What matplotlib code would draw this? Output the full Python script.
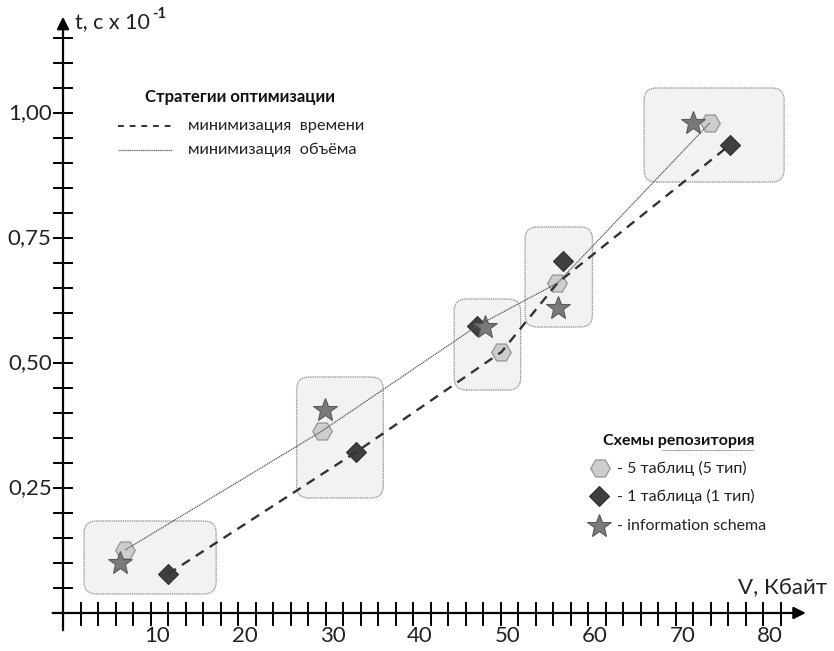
import matplotlib
matplotlib.use("Agg")
import matplotlib.pyplot as plt
from matplotlib.patches import FancyBboxPatch

plt.rcParams['font.family'] = ['Lato', 'DejaVu Sans']

# точки по схемам репозитория (V, Кбайт ; t, c x 10^-1)
hex_x = [7.1, 29.6, 50.1, 56.5, 73.9]          # 5 таблиц (5 тип)
hex_y = [0.126, 0.364, 0.522, 0.660, 0.980]
dia_x = [12.0, 33.5, 47.3, 57.1, 76.2]         # 1 таблица (1 тип)
dia_y = [0.078, 0.322, 0.574, 0.704, 0.936]
star_x = [6.5, 29.9, 48.2, 56.6, 72.0]         # information schema
star_y = [0.100, 0.406, 0.572, 0.610, 0.980]

# стратегии: минимизация времени / объёма
time_x = [12.0, 33.5, 50.1, 56.5, 76.2]
time_y = [0.078, 0.322, 0.522, 0.660, 0.936]
vol_x = [7.1, 29.6, 47.3, 56.5, 73.9]
vol_y = [0.126, 0.364, 0.574, 0.660, 0.980]

# рамки групп (x0, x1, y0, y1)
groups = [(2.4, 17.5, 0.038, 0.184),
          (26.7, 36.6, 0.230, 0.472),
          (44.7, 52.3, 0.446, 0.628),
          (52.8, 60.5, 0.572, 0.772),
          (66.4, 82.4, 0.862, 1.050)]

x_labels = [10, 20, 30, 40, 50, 60, 70, 80]
y_labels = [0.25, 0.50, 0.75, 1.00]

fig = plt.figure(figsize=(8.34, 6.51), dpi=100)
ax = fig.add_axes([0, 0, 1, 1])
ax.set_xlim(-7.2, 88.1)
ax.set_ylim(-0.076, 1.226)
ax.axis('off')

# axes with arrows
ax.annotate('', xy=(85.2, 0), xytext=(-1.5, 0),
            arrowprops=dict(arrowstyle='-|>', color='k', lw=1.6, mutation_scale=18))
ax.annotate('', xy=(0, 1.198), xytext=(0, -0.04),
            arrowprops=dict(arrowstyle='-|>', color='k', lw=1.6, mutation_scale=18))

for xt in range(2, 84, 2):
    ax.plot([xt, xt], [-0.024, 0.02], color='k', lw=1.4)
for i in range(1, 24):
    yt = 0.05 * i
    ax.plot([-1.03, 1.03], [yt, yt], color='k', lw=1.4)

for v in x_labels:
    ax.text(v + 0.8, -0.046, str(v), ha='center', va='center', fontsize=16, color='#222')
for v in y_labels:
    ax.text(-1.3, v, ('%.2f' % v).replace('.', ','), ha='right', va='center',
            fontsize=16, color='#222')

ax.text(1.4, 1.182, 't, с x 10', ha='left', va='center', fontsize=15.5, color='#222')
ax.text(10.15, 1.198, '-1', ha='left', va='center', fontsize=10.5, fontweight='bold', color='#222')
ax.text(87.3, 0.05, 'V, Кбайт', ha='right', va='center', fontsize=16, color='#222')

# group boxes
for x0, x1, y0, y1 in groups:
    ax.add_patch(FancyBboxPatch((x0, y0), x1 - x0, y1 - y0,
                                boxstyle='round,pad=0,rounding_size=1.4',
                                mutation_aspect=0.0175,
                                facecolor='#f2f2f2', edgecolor='#9a9a9a',
                                lw=1.0, linestyle=(0, (1, 0.6)), zorder=1))

# markers
ax.plot(hex_x, hex_y, 'H', ms=14, mfc='#cdcdcd', mec='#9a9a9a', mew=1, ls='none', zorder=3)
ax.plot(dia_x, dia_y, 'D', ms=10.5, mfc='#404040', mec='#303030', mew=0.8, ls='none', zorder=3)
ax.plot(star_x, star_y, '*', ms=18, mfc='#7a7a7a', mec='#5a5a5a', mew=0.8, ls='none', zorder=3)

# strategy lines
ax.plot(time_x, time_y, color='#333333', lw=1.7, ls=(0, (4, 3)), zorder=4)
ax.plot(vol_x, vol_y, color='#555555', lw=0.9, ls=(0, (1, 0.6)), zorder=4)

# legend: strategies
ax.text(9.4, 1.032, 'Стратегии оптимизации', fontsize=12, fontweight='bold',
        ha='left', va='center', color='#111')
ax.plot([6.3, 12.5], [0.974, 0.974], color='#333333', lw=1.4, ls=(0, (3, 3)))
ax.plot([6.3, 12.5], [0.926, 0.926], color='#666666', lw=0.9, ls=(0, (1, 0.5)))
ax.text(14.3, 0.974, 'минимизация  времени', fontsize=11.8, ha='left', va='center', color='#222')
ax.text(14.3, 0.926, 'минимизация  объёма', fontsize=11.8, ha='left', va='center', color='#222')

# legend: schemes
ax.text(61.7, 0.344, 'Схемы репозитория', fontsize=11.5, fontweight='bold',
        ha='left', va='center', color='#111')
ax.plot([68.5, 79.0], [0.326, 0.326], color='#888888', lw=0.8, ls=(0, (1, 0.5)))
ax.plot([61.4], [0.290], 'H', ms=14, mfc='#cdcdcd', mec='#9a9a9a', mew=1)
ax.plot([61.2], [0.234], 'D', ms=10.5, mfc='#404040', mec='#303030', mew=0.8)
ax.plot([61.2], [0.174], '*', ms=18, mfc='#7a7a7a', mec='#5a5a5a', mew=0.8)
ax.text(63.3, 0.290, '- 5 таблиц (5 тип)', fontsize=11.5, ha='left', va='center', color='#222')
ax.text(63.3, 0.234, '- 1 таблица (1 тип)', fontsize=11.5, ha='left', va='center', color='#222')
ax.text(63.3, 0.174, '- information schema', fontsize=11.5, ha='left', va='center', color='#222')

fig.savefig('out.png', dpi=100)
